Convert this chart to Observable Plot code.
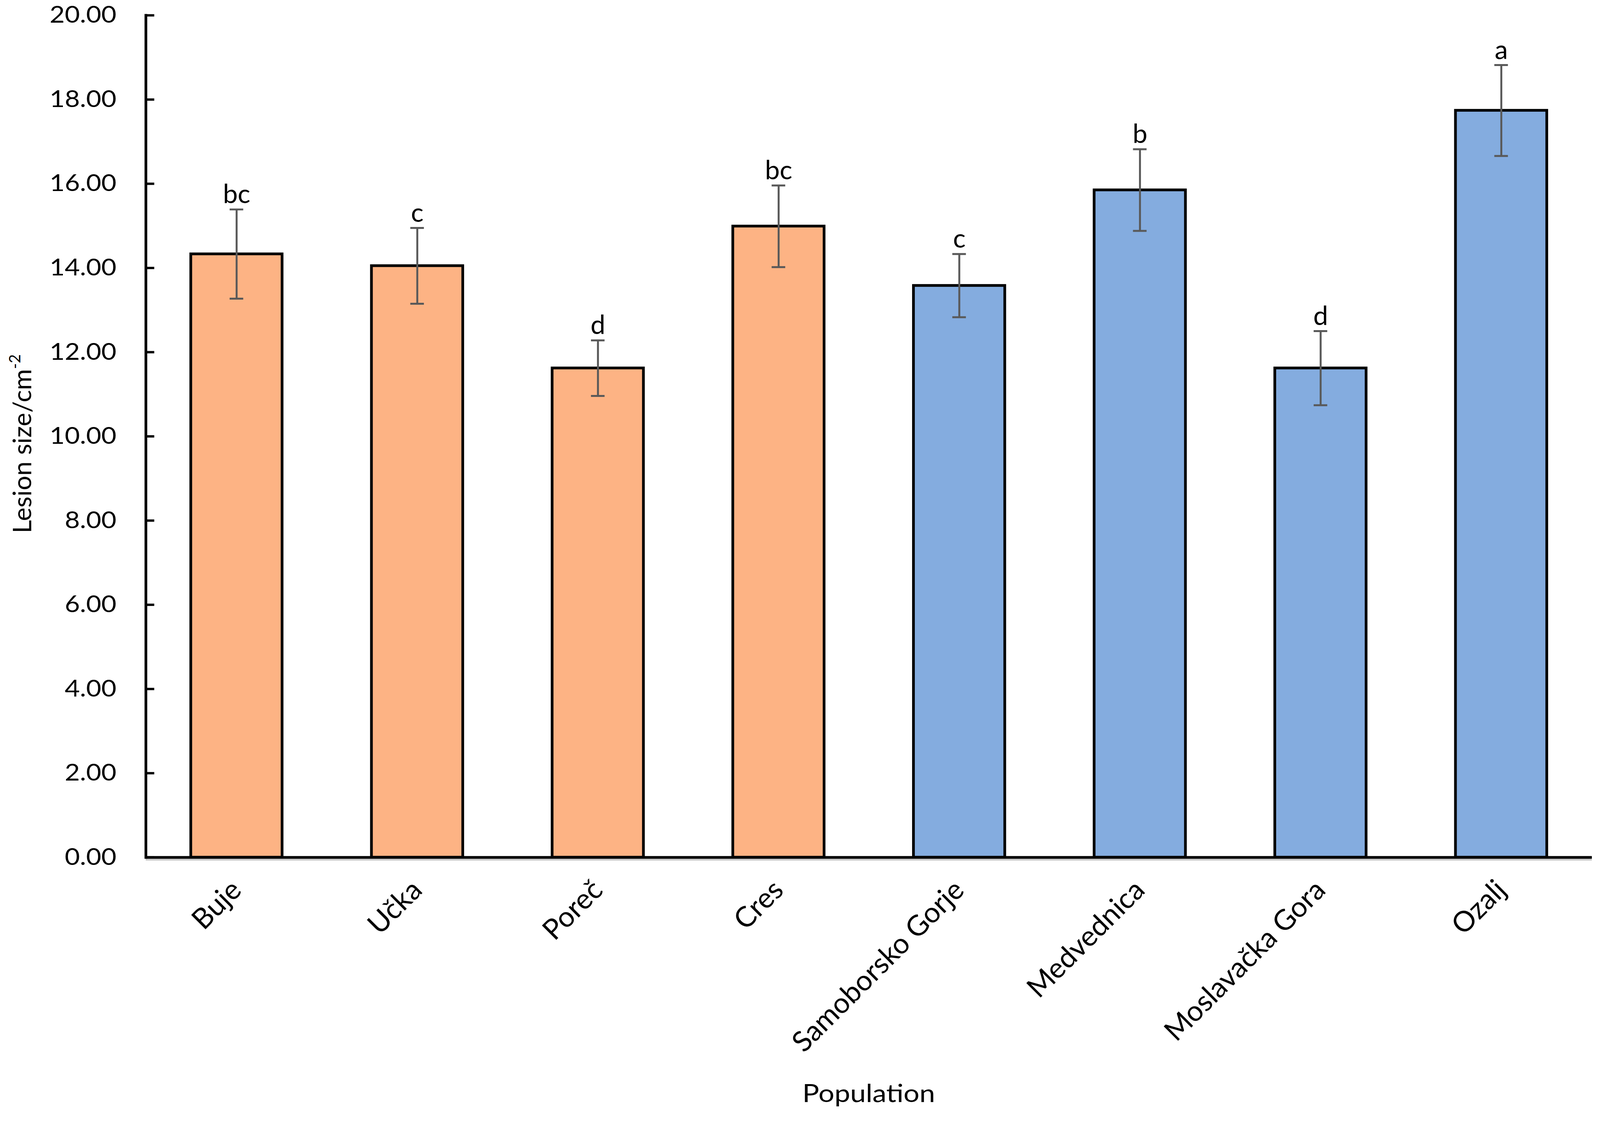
<!DOCTYPE html>
<html>
<head>
<meta charset="utf-8">
<script src="https://cdn.jsdelivr.net/npm/d3@7"></script>
<script src="https://cdn.jsdelivr.net/npm/@observablehq/plot@0.6"></script>
<style>
  html, body { margin: 0; padding: 0; background: #fff; }
</style>
</head>
<body>
<div id="chart"></div>
<script>
// ---- data ----
const populations = ["Buje", "Učka", "Poreč", "Cres", "Samoborsko Gorje", "Medvednica", "Moslavačka Gora", "Ozalj"];
const means = [14.33, 14.05, 11.62, 14.99, 13.58, 15.85, 11.62, 17.74];
const errors = [1.06, 0.90, 0.66, 0.97, 0.75, 0.97, 0.88, 1.08];
const letters = ["bc", "c", "d", "bc", "c", "b", "d", "a"];
const groups = ["coastal", "coastal", "coastal", "coastal", "continental", "continental", "continental", "continental"];
const groupNames = ["coastal", "continental"];
const groupColors = ["#FDB384", "#84ACDF"];
const yTicks = [0, 2, 4, 6, 8, 10, 12, 14, 16, 18, 20];
const xTitle = "Population";
const yTitle = "Lesion size/cm";
const yTitleSup = "-2";

const data = populations.map((p, i) => ({
  population: p, mean: means[i], err: errors[i], letter: letters[i], group: groups[i]
}));

// ---- layout ----
const W = 4118, H = 2872;
const mL = 375, mR = 21, mT = 39, mB = 666;
const frameW = W - mL - mR;
const FONT = "Lato, 'Open Sans', sans-serif";

const svg = Plot.plot({
  width: W,
  height: H,
  marginLeft: mL,
  marginRight: mR,
  marginTop: mT,
  marginBottom: mB,
  style: { fontFamily: FONT, background: "#fff", color: "#000" },
  x: { domain: populations, paddingInner: 0.495, paddingOuter: 0.2475, label: null },
  y: { domain: [0, 20], label: null },
  color: { domain: groupNames, range: groupColors },
  marks: [
    Plot.barY(data, { x: "population", y: "mean", fill: "group", stroke: "#000", strokeWidth: 7 }),
    Plot.ruleX(data, { x: "population", y1: d => d.mean - d.err, y2: d => d.mean + d.err, stroke: "#595959", strokeWidth: 5 }),
    Plot.tickY(data, { x: "population", y: d => d.mean + d.err, stroke: "#595959", strokeWidth: 5, insetLeft: 100, insetRight: 100 }),
    Plot.tickY(data, { x: "population", y: d => d.mean - d.err, stroke: "#595959", strokeWidth: 5, insetLeft: 100, insetRight: 100 }),
    Plot.text(data, { x: "population", y: d => d.mean + d.err, text: "letter", dy: -16, lineAnchor: "bottom", fontSize: 68, fill: "#000" }),
    // axes
    Plot.axisY({ ticks: yTicks, tickFormat: d => d.toFixed(2), tickSize: 0, tickPadding: 76, fontSize: 60, label: null }),
    Plot.tickY(yTicks, { y: d => d, stroke: "#000", strokeWidth: 6, insetRight: frameW - 22 }),
    Plot.axisX({ tickRotate: -45, tickSize: 0, tickPadding: 72, fontSize: 73, label: null }),
    Plot.ruleY([0], { stroke: "#c8c8c8", strokeWidth: 4, dy: 6 }),
    Plot.ruleY([0], { stroke: "#000", strokeWidth: 7 }),
    Plot.frame({ anchor: "left", stroke: "#000", strokeWidth: 7 })
  ]
});

const s = d3.select(svg);
// y-axis title with superscript
const yt = s.append("text")
  .attr("transform", `translate(80, ${1142}) rotate(-90)`)
  .attr("text-anchor", "middle")
  .attr("font-family", FONT)
  .attr("font-size", 66)
  .attr("fill", "#000");
yt.append("tspan").text(yTitle);
yt.append("tspan").attr("font-size", 40).attr("dy", -28).text(yTitleSup);

// x-axis title
const xt = s.append("text")
  .attr("x", mL + frameW / 2)
  .attr("y", 2836)
  .attr("text-anchor", "middle")
  .attr("font-family", FONT)
  .attr("font-size", 64)
  .attr("fill", "#000")
  .text(xTitle);

document.getElementById("chart").appendChild(svg);

// widen glyphs slightly to match the reference's wider lettering
function widen(sel, k) {
  sel.each(function () {
    const l = this.getComputedTextLength();
    if (l > 0) {
      this.setAttribute("textLength", l * k);
      this.setAttribute("lengthAdjust", "spacingAndGlyphs");
    }
  });
}
widen(s.selectAll('g[aria-label="y-axis tick label"] text'), 1.12);
widen(xt, 1.13);
</script>
</body>
</html>
